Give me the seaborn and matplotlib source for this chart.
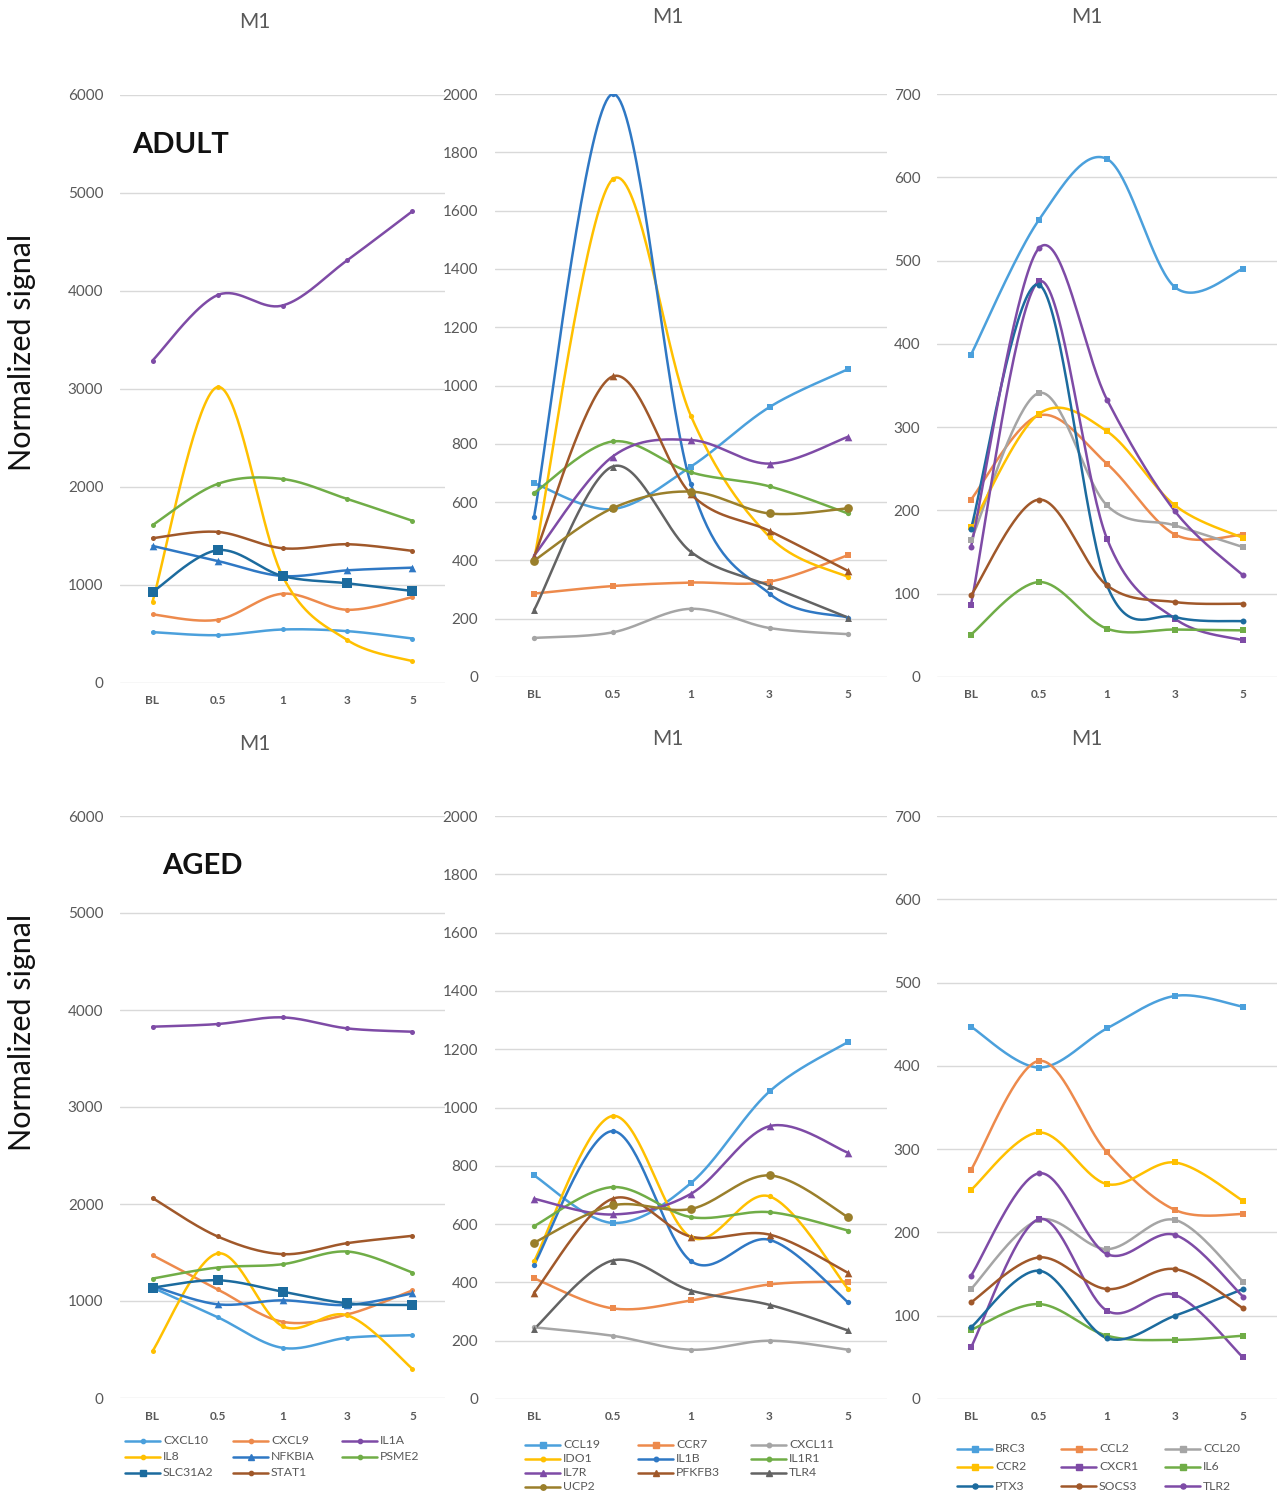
import numpy as np
import pandas as pd
import matplotlib
matplotlib.use("Agg")
import matplotlib.pyplot as plt
import seaborn as sns
from matplotlib.lines import Line2D

sns.set_theme(style="white")
plt.rcParams['font.family'] = ['Lato', 'DejaVu Sans']

# ---------------------------------------------------------------- data
timepoints = ["BL", "0.5", "1", "3", "5"]

genes_left = ["CXCL10", "CXCL9", "IL1A", "IL8", "NFKBIA", "PSME2", "SLC31A2", "STAT1"]
genes_mid = ["CCL19", "CCR7", "CXCL11", "IDO1", "IL1B", "IL1R1", "IL7R", "PFKFB3", "TLR4", "UCP2"]
genes_right = ["BRC3", "CCL2", "CCL20", "CCR2", "CXCR1", "IL6", "PTX3", "SOCS3", "TLR2"]

adult_left = {
    "CXCL10": [519, 488, 546, 529, 454],
    "CXCL9": [700, 645, 911, 747, 877],
    "IL1A": [3290, 3958, 3852, 4316, 4815],
    "IL8": [829, 3020, 1092, 437, 222],
    "NFKBIA": [1399, 1246, 1092, 1150, 1177],
    "PSME2": [1611, 2031, 2082, 1877, 1655],
    "SLC31A2": [928, 1355, 1092, 1017, 939],
    "STAT1": [1478, 1542, 1375, 1416, 1348],
}
adult_mid = {
    "CCL19": [665, 576, 722, 926, 1056],
    "CCR7": [286, 312, 324, 327, 418],
    "CXCL11": [134, 153, 234, 168, 147],
    "IDO1": [402, 1707, 895, 481, 343],
    "IL1B": [549, 2000, 661, 286, 204],
    "IL1R1": [631, 808, 702, 654, 561],
    "IL7R": [416, 756, 813, 732, 824],
    "PFKFB3": [413, 1031, 627, 501, 364],
    "TLR4": [229, 722, 429, 313, 204],
    "UCP2": [399, 579, 636, 561, 579],
}
adult_right = {
    "BRC3": [387, 549, 622, 468, 490],
    "CCL2": [213, 314, 256, 171, 171],
    "CCL20": [164, 341, 206, 182, 156],
    "CCR2": [180, 316, 295, 206, 167],
    "CXCR1": [87, 475, 166, 70, 44],
    "IL6": [51, 114, 58, 57, 56],
    "PTX3": [178, 471, 110, 72, 67],
    "SOCS3": [98, 213, 110, 90, 88],
    "TLR2": [156, 515, 333, 199, 122],
}

aged_left = {
    "CXCL10": [1138, 834, 517, 621, 648],
    "CXCL9": [1472, 1121, 786, 862, 1110],
    "IL1A": [3828, 3855, 3924, 3810, 3776],
    "IL8": [483, 1490, 741, 852, 300],
    "NFKBIA": [1155, 966, 1007, 959, 1079],
    "PSME2": [1231, 1345, 1379, 1510, 1293],
    "SLC31A2": [1138, 1214, 1097, 976, 959],
    "STAT1": [2062, 1666, 1483, 1597, 1672],
}
aged_mid = {
    "CCL19": [767, 604, 741, 1055, 1225],
    "CCR7": [414, 311, 338, 393, 403],
    "CXCL11": [246, 217, 169, 200, 169],
    "IDO1": [472, 971, 555, 695, 378],
    "IL1B": [460, 919, 473, 546, 332],
    "IL1R1": [593, 727, 624, 641, 578],
    "IL7R": [687, 633, 704, 936, 845],
    "PFKFB3": [364, 687, 557, 564, 433],
    "TLR4": [240, 475, 372, 323, 235],
    "UCP2": [536, 664, 652, 767, 624],
}
aged_right = {
    "BRC3": [447, 398, 445, 484, 471],
    "CCL2": [275, 406, 296, 227, 222],
    "CCL20": [132, 215, 180, 215, 141],
    "CCR2": [251, 320, 258, 284, 238],
    "CXCR1": [62, 216, 106, 125, 50],
    "IL6": [83, 114, 76, 71, 76],
    "PTX3": [86, 154, 73, 100, 132],
    "SOCS3": [116, 170, 132, 156, 109],
    "TLR2": [148, 271, 174, 197, 123],
}

# ---------------------------------------------------------------- styles
LBLUE, ORANGE, PURPLE, YELLOW = "#4BA0DC", "#ED8A4C", "#7E4BA6", "#FFC000"
BLUE, GREEN, TEAL, BROWN = "#2F78C4", "#70AD47", "#1C6B9E", "#A0582A"
GREY, DGREY, OLIVE = "#A5A5A5", "#636363", "#9A7F2B"

style = {
    "CXCL10": (LBLUE, "o", 3.6), "CXCL9": (ORANGE, "o", 3.6), "IL1A": (PURPLE, "o", 3.6),
    "IL8": (YELLOW, "o", 3.6), "NFKBIA": (BLUE, "^", 5.5), "PSME2": (GREEN, "o", 3.6),
    "SLC31A2": (TEAL, "s", 7.0), "STAT1": (BROWN, "o", 3.6),
    "CCL19": (LBLUE, "s", 4.3), "CCR7": (ORANGE, "s", 4.3), "CXCL11": (GREY, "o", 3.8),
    "IDO1": (YELLOW, "o", 3.8), "IL1B": (BLUE, "o", 3.8), "IL1R1": (GREEN, "o", 3.8),
    "IL7R": (PURPLE, "^", 5.5), "PFKFB3": (BROWN, "^", 5.5), "TLR4": (DGREY, "^", 5.0),
    "UCP2": (OLIVE, "o", 6.3),
    "BRC3": (LBLUE, "s", 4.5), "CCL2": (ORANGE, "s", 4.5), "CCL20": (GREY, "s", 4.5),
    "CCR2": (YELLOW, "s", 4.5), "CXCR1": (PURPLE, "s", 4.5), "IL6": (GREEN, "s", 4.5),
    "PTX3": (TEAL, "o", 4.3), "SOCS3": (BROWN, "o", 4.3), "TLR2": (PURPLE, "o", 4.3),
}

W, H = 1282, 1495
fig = plt.figure(figsize=(W / 100, H / 100), dpi=100)


def rect(left, right, top, bottom):
    return [left / W, 1 - bottom / H, (right - left) / W, (bottom - top) / H]


def smooth(vals, n=40):
    """Cubic Bezier smoothing through the points (spreadsheet-style smoothed line)."""
    pts = np.column_stack([np.arange(len(vals), dtype=float), np.asarray(vals, float)])
    t = np.linspace(0, 1, n)[:, None]
    out = []
    for i in range(len(pts) - 1):
        p0 = pts[max(i - 1, 0)]
        p1, p2 = pts[i], pts[i + 1]
        p3 = pts[min(i + 2, len(pts) - 1)]
        c1 = p1 + (p2 - p0) / 6
        c2 = p2 - (p3 - p1) / 6
        seg = (1 - t) ** 3 * p1 + 3 * (1 - t) ** 2 * t * c1 + 3 * (1 - t) * t ** 2 * c2 + t ** 3 * p2
        out.append(seg if i == 0 else seg[1:])
    return np.vstack(out)


def panel(box, data, genes, ymax, ystep):
    ax = fig.add_axes(rect(*box))
    for g in genes:
        color, marker, ms = style[g]
        curve = smooth(data[g])
        sns.lineplot(x=curve[:, 0], y=curve[:, 1], ax=ax, color=color, lw=1.8,
                     sort=False, estimator=None, legend=False, zorder=2)
        sns.scatterplot(x=np.arange(len(timepoints)), y=data[g], ax=ax, color=color,
                        marker=marker, s=ms ** 2, linewidth=0, legend=False, zorder=3)
    ax.set_xlim(-0.5, len(timepoints) - 0.5)
    ax.set_ylim(0, ymax)
    ax.set_yticks(np.arange(0, ymax + 1, ystep))
    ax.set_xticks(range(len(timepoints)))
    ax.set_xticklabels(timepoints, fontsize=8.5, fontweight="bold", color="#595959")
    ax.tick_params(axis="y", labelsize=11, labelcolor="#595959", length=0, pad=12)
    ax.tick_params(axis="x", length=0, pad=9)
    ax.grid(axis="y", color="#D9D9D9", lw=1.0)
    ax.grid(axis="x", visible=False)
    for s in ax.spines.values():
        s.set_visible(False)
    ax.set_xlabel("")
    ax.set_ylabel("")
    ax.set_facecolor("none")
    return ax


COL_L = (120, 445)
COL_M = (494.75, 887.25)
COL_R = (937, 1277)

panel((*COL_L, 95, 683), adult_left, genes_left, 6000, 1000)
panel((*COL_M, 94, 677), adult_mid, genes_mid, 2000, 200)
panel((*COL_R, 94, 677), adult_right, genes_right, 700, 100)
panel((*COL_L, 816, 1398), aged_left, genes_left, 6000, 1000)
panel((*COL_M, 816, 1399), aged_mid, genes_mid, 2000, 200)
panel((*COL_R, 816, 1399), aged_right, genes_right, 700, 100)

# titles
for (x, y) in [(255, 22), (668, 17), (1087, 17), (255, 744), (668, 739), (1087, 739)]:
    fig.text(x / W, 1 - y / H, "M1", ha="center", va="center", fontsize=15, color="#595959")

fig.text(132 / W, 1 - 145 / H, "ADULT", ha="left", va="center", fontsize=21,
         fontweight="bold", color="#111111")
fig.text(162 / W, 1 - 866 / H, "AGED", ha="left", va="center", fontsize=21,
         fontweight="bold", color="#111111")
for y in (352, 1032):
    fig.text(22 / W, 1 - y / H, "Normalized signal", ha="center", va="center",
             rotation=90, fontsize=22, color="#111111")


# legends, entries laid out row by row in three columns
def legend(genes, col_x, row_y, line_len=35):
    for i, g in enumerate(genes):
        color, marker, ms = style[g]
        x0 = col_x[i % 3]
        y = row_y[i // 3]
        fx = [x0 / W, (x0 + line_len) / W]
        fy = [1 - y / H] * 2
        fig.add_artist(Line2D(fx, fy, color=color, lw=1.8, transform=fig.transFigure))
        fig.add_artist(Line2D([(x0 + line_len / 2) / W], [1 - y / H], color=color,
                              marker=marker, markersize=min(ms, 4.6) * 0.85, lw=0,
                              transform=fig.transFigure))
        fig.text((x0 + line_len + 3) / W, 1 - y / H, g, ha="left", va="center",
                 fontsize=8.8, color="#595959")


legend(genes_left, [125, 233, 342], [1441, 1457, 1473])
legend(genes_mid, [525, 638, 751], [1445, 1459, 1473, 1487])
legend(genes_right, [957, 1061, 1165], [1449, 1467, 1486])

fig.savefig("out.png", dpi=100, facecolor="white")
